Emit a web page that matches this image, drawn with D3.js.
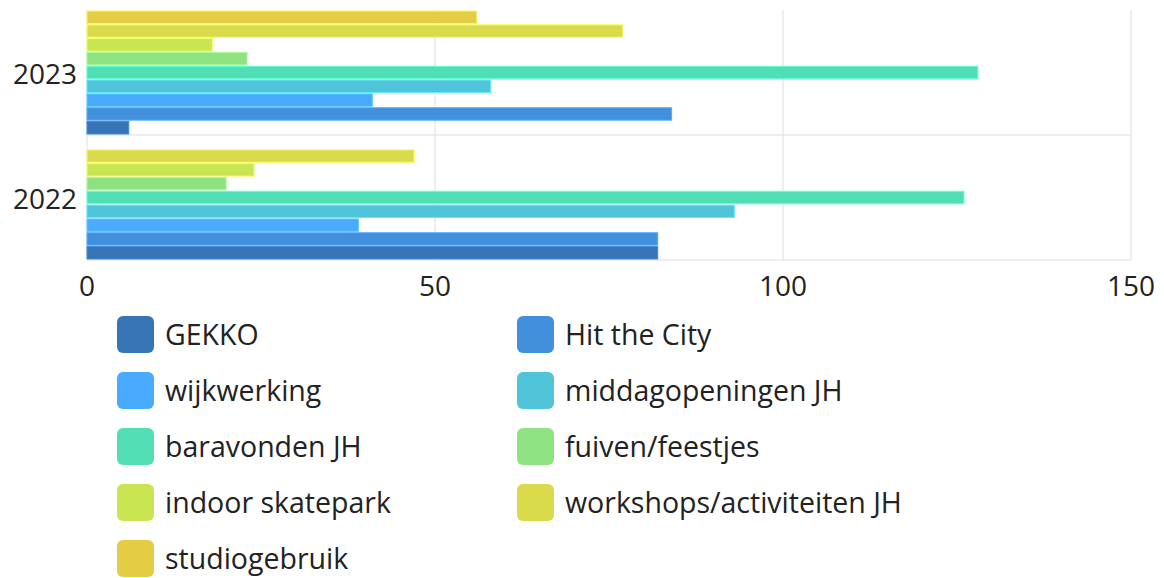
<!DOCTYPE html>
<html>
<head>
<meta charset="utf-8">
<script src="https://cdn.jsdelivr.net/npm/d3@7"></script>
<style>
  body { margin: 0; background: #fff; }
  svg text { font-family: "Open Sans", "Noto Sans", sans-serif; fill: #222; }
</style>
</head>
<body>
<div id="chart"></div>
<script>
// categories, top to bottom
var years = ["2023", "2022"];

var seriesNames = ["GEKKO", "Hit the City", "wijkwerking", "middagopeningen JH",
    "baravonden JH", "fuiven/feestjes", "indoor skatepark",
    "workshops/activiteiten JH", "studiogebruik"];

var seriesColors = ["#3674b5", "#4290dc", "#4aabfe", "#50c4d9",
    "#52deb4", "#8ee281", "#c9e652", "#d9db4c", "#e4cd44"];

// values per series, in order of years (2023, 2022); null = no bar
var gekko = [6, 82];
var hitTheCity = [84, 82];
var wijkwerking = [41, 39];
var middagopeningen = [58, 93];
var baravonden = [128, 126];
var fuiven = [23, 20];
var indoorSkatepark = [18, 24];
var workshops = [77, 47];
var studiogebruik = [56, null];

var xTicks = [0, 50, 100, 150];

var seriesValues = [gekko, hitTheCity, wijkwerking, middagopeningen,
    baravonden, fuiven, indoorSkatepark, workshops, studiogebruik];

var width = 1164, height = 578;
var plot = { left: 87, right: 1131, top: 10, bottom: 260 };

var svg = d3.select("#chart").append("svg")
    .attr("width", width)
    .attr("height", height);

var x = d3.scaleLinear().domain([0, 150]).range([plot.left, plot.right]);
var y = d3.scaleBand().domain(years).range([plot.top, plot.bottom]);

// series drawn bottom-up within each band: first series at the bottom
var inner = d3.scaleBand()
    .domain(seriesNames.slice().reverse())
    .range([1, y.bandwidth() - 1])
    .paddingInner(0.1);

// grid
var grid = svg.append("g");
grid.selectAll("line.v")
    .data(xTicks)
    .enter().append("line")
    .attr("x1", function(d) { return x(d); })
    .attr("x2", function(d) { return x(d); })
    .attr("y1", plot.top)
    .attr("y2", plot.bottom)
    .attr("stroke", "#dadde2")
    .attr("stroke-width", 1);

grid.selectAll("line.h")
    .data([y("2022"), plot.bottom])
    .enter().append("line")
    .attr("x1", plot.left)
    .attr("x2", plot.right)
    .attr("y1", function(d) { return d; })
    .attr("y2", function(d) { return d; })
    .attr("stroke", "#dadde2")
    .attr("stroke-width", 1);

// bars
var barData = [];
seriesNames.forEach(function(name, i) {
    years.forEach(function(year, j) {
        var v = seriesValues[i][j];
        if (v !== null) barData.push({ name: name, year: year, value: v, color: seriesColors[i] });
    });
});

svg.append("g").selectAll("rect")
    .data(barData)
    .enter().append("rect")
    .attr("x", x(0))
    .attr("y", function(d) { return y(d.year) + inner(d.name); })
    .attr("width", function(d) { return x(d.value) - x(0); })
    .attr("height", inner.bandwidth())
    .attr("fill", function(d) { return d.color; })
    .attr("stroke", function(d) { return d3.color(d.color).brighter(0.5); })
    .attr("stroke-width", 1);

// y labels
svg.append("g").selectAll("text")
    .data(years)
    .enter().append("text")
    .attr("x", 77)
    .attr("y", function(d) { return y(d) + y.bandwidth() / 2; })
    .attr("text-anchor", "end")
    .attr("dominant-baseline", "central")
    .style("font-size", "28px")
    .text(function(d) { return d; });

// x labels
svg.append("g").selectAll("text")
    .data(xTicks)
    .enter().append("text")
    .attr("x", function(d) { return x(d); })
    .attr("y", 285)
    .attr("text-anchor", "middle")
    .attr("dominant-baseline", "central")
    .style("font-size", "28px")
    .text(function(d) { return d; });

// legend, two columns
var legend = svg.append("g").selectAll("g")
    .data(seriesNames)
    .enter().append("g")
    .attr("transform", function(d, i) {
        var col = i % 2, row = Math.floor(i / 2);
        return "translate(" + (117 + col * 400) + "," + (316 + row * 56) + ")";
    });

legend.append("rect")
    .attr("width", 37)
    .attr("height", 37)
    .attr("rx", 6)
    .attr("fill", function(d, i) { return seriesColors[i]; });

legend.append("text")
    .attr("x", 48)
    .attr("y", 18)
    .attr("dominant-baseline", "central")
    .style("font-size", "28.5px")
    .text(function(d) { return d; });
</script>
</body>
</html>
